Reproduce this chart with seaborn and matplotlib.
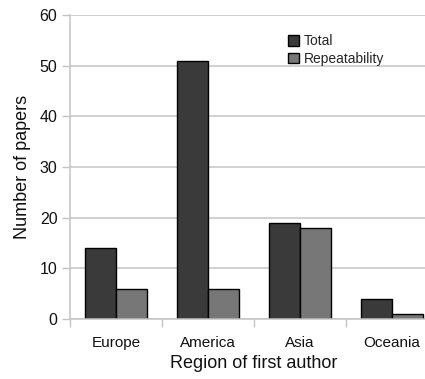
import matplotlib
matplotlib.use("Agg")
import matplotlib.pyplot as plt
import seaborn as sns
import pandas as pd
from matplotlib.ticker import FixedLocator

regions = ["Europe", "America", "Asia", "Oceania"]
total = [14, 51, 19, 4]
repeatability = [6, 6, 18, 1]
series_names = ["Total", "Repeatability"]
y_ticks = [0, 10, 20, 30, 40, 50, 60]

df = pd.DataFrame({
    "region": regions * 2,
    "series": [series_names[0]] * len(regions) + [series_names[1]] * len(regions),
    "papers": total + repeatability,
})

sns.set_theme(style="white")
plt.rcParams["font.family"] = ["Liberation Sans", "DejaVu Sans"]

fig = plt.figure(figsize=(4.25, 3.79), dpi=100)
ax = fig.add_axes([70 / 425, 1 - 319 / 379, 368 / 425, 304 / 379])

grid_c = "#c4c4c4"
ax.set_axisbelow(True)
ax.yaxis.grid(True, color=grid_c, linewidth=1.1)

sns.barplot(data=df, x="region", y="papers", hue="series",
            palette=["#3a3a3a", "#777777"], width=0.674, gap=0,
            edgecolor="black", linewidth=1.0, ax=ax)

ax.set_ylim(0, 60)
ax.set_xlim(-0.5, 3.5)
ax.set_yticks(y_ticks)
ax.tick_params(axis="y", which="major", left=True, length=6, width=1,
               color=grid_c, labelsize=11.5, pad=3, labelcolor="#111111")
ax.set_xticks(range(len(regions)))
ax.set_xticklabels(regions)
ax.tick_params(axis="x", which="major", bottom=False, labelsize=11, pad=6,
               labelcolor="#111111")
ax.xaxis.set_minor_locator(FixedLocator([-0.5, 0.5, 1.5, 2.5]))
ax.tick_params(axis="x", which="minor", bottom=True, length=6, width=1,
               color=grid_c, direction="out")

for s in ["top", "right"]:
    ax.spines[s].set_visible(False)
ax.spines["left"].set_color(grid_c)
ax.spines["left"].set_linewidth(1.1)
ax.spines["bottom"].set_color(grid_c)
ax.spines["bottom"].set_linewidth(1.1)

ax.set_xlabel("Region of first author", fontsize=13, color="#111111", labelpad=4)
ax.set_ylabel("Number of papers", fontsize=13, color="#111111", labelpad=6)

leg = ax.legend(loc="upper left", bbox_to_anchor=(212 / 368, 0.955), frameon=False,
                fontsize=10, handlelength=0.8, handleheight=0.8,
                handletextpad=0.4, labelspacing=0.25, borderaxespad=0)
for h in leg.legend_handles:
    h.set_edgecolor("black")
    h.set_linewidth(1.0)

fig.savefig("out.png", dpi=100)
